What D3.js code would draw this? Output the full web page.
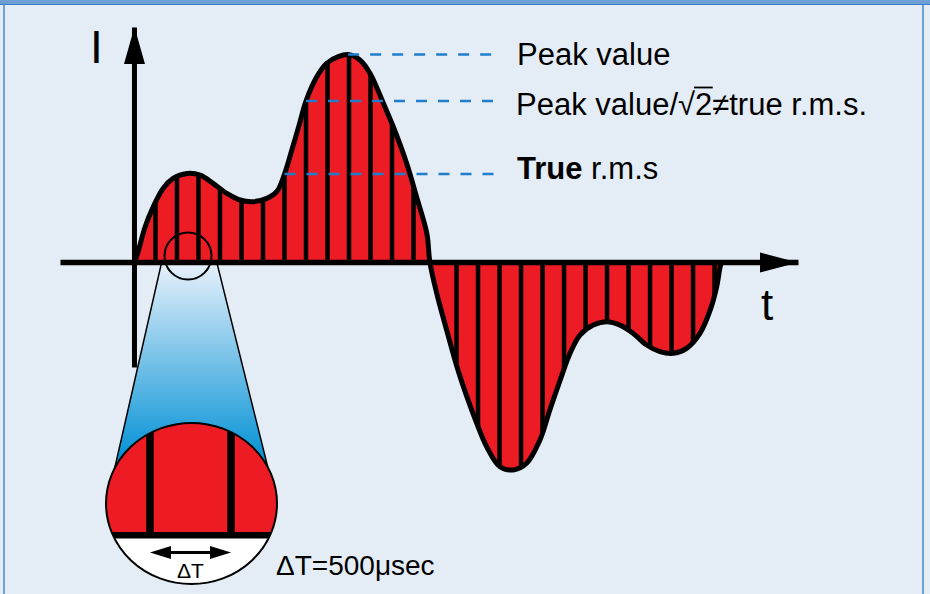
<!DOCTYPE html>
<html>
<head>
<meta charset="utf-8">
<script src="https://cdn.jsdelivr.net/npm/d3@7"></script>
<style>
  body { margin: 0; background: #e4edf6; }
  svg { display: block; }
  text { font-family: 'Liberation Sans', Arial, sans-serif; fill: #000; }
</style>
</head>
<body>
<div id="chart"></div>
<script>
// waveform: time in ms, current in % of the peak value
var timeMs = [0, 0.06, 0.26, 0.45, 0.68, 0.91, 1.23, 1.54, 1.84, 2.16, 2.47, 2.77, 3.09, 3.32,
	3.50, 3.67, 3.84, 4.00, 4.25, 4.48, 4.75, 4.98, 5.26, 5.49, 5.80, 6.03, 6.34, 6.57, 6.81, 6.88,
	7.04, 7.27, 7.51, 7.74, 7.97, 8.20, 8.51, 8.82, 9.13, 9.44, 9.67, 9.91, 10.14, 10.37, 10.68,
	10.99, 11.30, 11.61, 11.92, 12.23, 12.54, 12.85, 13.16, 13.40, 13.55, 13.64, 13.67];
var current = [0, 2.6, 17.0, 26.7, 35.6, 40.3, 42.7, 41.9, 37.9, 33.1, 29.9, 29.1, 30.7, 33.9,
	42.4, 54.0, 66.0, 77.6, 89.3, 95.8, 99.0, 100, 97.3, 90.9, 76.5, 65.2, 47.6, 31.5, 13.8, 0,
	-15.1, -32.8, -50.5, -64.9, -77.7, -89.0, -98.7, -100.2, -97.0, -85.8, -71.3, -56.9, -44.0, -35.2, -30.4,
	-28.8, -30.4, -34.4, -40.0, -43.2, -44.0, -41.6, -34.4, -23.1, -11.9, -1.4, 0];

// sampling instants drawn as bars (dT = 500 usec; the one just after the zero crossing is not drawn)
var sampleMs = [0, 0.5, 1, 1.5, 2, 2.5, 3, 3.5, 4, 4.5, 5, 5.5, 6, 6.5,
	7.5, 8, 8.5, 9, 9.5, 10, 10.5, 11, 11.5, 12, 12.5, 13, 13.5];

// annotation levels (% of peak) and their labels
var levelValues = [100, 77.6, 42.4];
var levelLabels = ['Peak value', 'Peak value/\u221A2\u2260true r.m.s.', 'True r.m.s'];

var W = 930, H = 594;

var svg = d3.select('#chart').append('svg')
	.attr('width', W)
	.attr('height', H);

var x = d3.scaleLinear().domain([-1.72, 15.44]).range([60, 798]);
var y = d3.scaleLinear().domain([-50.6, 113.3]).range([367, 27]);

var wave = timeMs.map(function(t, i) { return { t: t, i: current[i] }; });

var curve = d3.curveCatmullRom.alpha(0.5);
var area = d3.area()
	.x(function(d) { return x(d.t); })
	.y0(y(0))
	.y1(function(d) { return y(d.i); })
	.curve(curve);
var line = d3.line()
	.x(function(d) { return x(d.t); })
	.y(function(d) { return y(d.i); })
	.curve(curve);

// frame
svg.append('rect').attr('width', W).attr('height', H).attr('fill', '#e4edf6');
svg.append('rect').attr('width', W).attr('height', 4).attr('fill', '#6c9fd5');
svg.append('line').attr('x1', 0).attr('x2', W).attr('y1', 4.5).attr('y2', 4.5)
	.attr('stroke', '#3c7bc3').attr('stroke-width', 1);
svg.append('line').attr('x1', 4).attr('x2', 4).attr('y1', 4).attr('y2', H)
	.attr('stroke', '#4a87cc').attr('stroke-width', 1.5);
svg.append('line').attr('x1', 923).attr('x2', 923).attr('y1', 4).attr('y2', H)
	.attr('stroke', '#4a87cc').attr('stroke-width', 1.5);

var defs = svg.append('defs');

defs.append('clipPath').attr('id', 'waveClip')
	.append('path').attr('d', area(wave));

var grad = defs.append('linearGradient').attr('id', 'coneGrad')
	.attr('gradientUnits', 'userSpaceOnUse')
	.attr('x1', 0).attr('x2', 0).attr('y1', 262).attr('y2', 455);
grad.append('stop').attr('offset', '0%').attr('stop-color', '#e8f1fb');
grad.append('stop').attr('offset', '100%').attr('stop-color', '#0a94d6');

// magnifier geometry
var lens = { cx: 188, cy: 256, r: 23.5 };
var bigLens = { cx: 191.5, cy: 503.5, rx: 85.5, ry: 80.5 };
var zoomK = 3.77, focus = [188, 253.6];
function zx(px) { return bigLens.cx + zoomK * (px - focus[0]); }

defs.append('clipPath').attr('id', 'lensClip')
	.append('ellipse')
	.attr('cx', bigLens.cx).attr('cy', bigLens.cy)
	.attr('rx', bigLens.rx).attr('ry', bigLens.ry);

// cone from small lens down to the big one
svg.append('path')
	.attr('d', 'M161.7,262L216.7,262L271,480L112,480Z')
	.attr('fill', 'url(#coneGrad)')
	.attr('stroke', '#000')
	.attr('stroke-width', 1.5);

// red area + sample bars
svg.append('path')
	.attr('d', area(wave))
	.attr('fill', '#ed1c24');

svg.append('g')
	.attr('clip-path', 'url(#waveClip)')
	.selectAll('line')
	.data(sampleMs)
	.enter()
		.append('line')
		.attr('x1', function(d) { return x(d); })
		.attr('x2', function(d) { return x(d); })
		.attr('y1', y(-110))
		.attr('y2', y(110))
		.attr('stroke', '#000')
		.attr('stroke-width', 4.5);

svg.append('path')
	.attr('d', line(wave))
	.attr('fill', 'none')
	.attr('stroke', '#000')
	.attr('stroke-width', 5)
	.attr('stroke-linejoin', 'round');

// axes without ticks, plus arrow heads
var xAxis = d3.axisBottom(x).tickValues([]).tickSizeOuter(0);
var yAxis = d3.axisLeft(y).tickValues([]).tickSizeOuter(0);

svg.append('g')
	.attr('transform', 'translate(0,' + y(0) + ')')
	.call(xAxis)
	.select('.domain').attr('stroke', '#000').attr('stroke-width', 5.5);

svg.append('g')
	.attr('transform', 'translate(' + x(0) + ',0)')
	.call(yAxis)
	.select('.domain').attr('stroke', '#000').attr('stroke-width', 5);

var x0 = x(0) + 0.5, y0 = y(0) + 0.5;
svg.append('path')
	.attr('d', 'M' + x0 + ',' + y.range()[1] + 'L' + (x0 + 10.5) + ',64L' + (x0 - 10.5) + ',64Z')
	.attr('fill', '#000');
svg.append('path')
	.attr('d', 'M' + x.range()[1] + ',' + y0 + 'L760,' + (y0 - 10) + 'L760,' + (y0 + 10) + 'Z')
	.attr('fill', '#000');

svg.append('text').attr('x', 96.5).attr('y', 63).attr('text-anchor', 'middle')
	.style('font-size', '46px').text('I');
svg.append('text').attr('x', 767).attr('y', 320).attr('text-anchor', 'middle')
	.style('font-size', '44px').text('t');

// dashed level lines start where the rising edge of the main peak meets the level
function risingCrossing(level) {
	for (var k = 11; k < wave.length - 1; k++) {
		var a = wave[k], b = wave[k + 1];
		if (a.i <= level && b.i >= level) {
			var f = (level - a.i) / (b.i - a.i);
			return a.t + f * (b.t - a.t);
		}
	}
	return wave[21].t;
}

svg.append('g')
	.selectAll('line')
	.data(levelValues)
	.enter()
		.append('line')
		.attr('x1', function(d) { return x(risingCrossing(d)); })
		.attr('x2', 497)
		.attr('y1', function(d) { return y(d); })
		.attr('y2', function(d) { return y(d); })
		.attr('stroke', '#1f7ecb')
		.attr('stroke-width', 2.5)
		.attr('stroke-dasharray', '11,11');

var labelBase = [64.5, 114.5, 179];

svg.append('text').attr('x', 517).attr('y', labelBase[0])
	.style('font-size', '31px').text(levelLabels[0]);

var rmsText = svg.append('text').attr('x', 516).attr('y', labelBase[1])
	.style('font-size', '31px').text(levelLabels[1]);

// overline of the square root over the "2"
var rn = rmsText.node();
var sq = levelLabels[1].indexOf('\u221A');
var ox1 = rn.getEndPositionOfChar(sq).x - 1;
var ox2 = rn.getEndPositionOfChar(sq + 1).x + 0.5;
svg.append('line').attr('x1', ox1).attr('x2', ox2)
	.attr('y1', labelBase[1] - 27).attr('y2', labelBase[1] - 27)
	.attr('stroke', '#000').attr('stroke-width', 1.8);

var trueText = svg.append('text').attr('x', 517).attr('y', labelBase[2]).style('font-size', '31px');
trueText.append('tspan').style('font-weight', 'bold').text(levelLabels[2].split(' ')[0]);
trueText.append('tspan').text(' ' + levelLabels[2].split(' ')[1]);

// small lens over the chart
svg.append('circle')
	.attr('cx', lens.cx).attr('cy', lens.cy).attr('r', lens.r)
	.attr('fill', 'none')
	.attr('stroke', '#000')
	.attr('stroke-width', 2);

// big lens: same area and bars, magnified
var big = svg.append('g').attr('clip-path', 'url(#lensClip)');
big.append('ellipse')
	.attr('cx', bigLens.cx).attr('cy', bigLens.cy)
	.attr('rx', bigLens.rx).attr('ry', bigLens.ry)
	.attr('fill', '#fff');

var mag = big.append('g')
	.attr('transform', 'translate(' + (bigLens.cx - zoomK * focus[0]) + ',' + (bigLens.cy - zoomK * focus[1]) + ') scale(' + zoomK + ')');

mag.append('path').attr('d', area(wave)).attr('fill', '#ed1c24');

mag.append('g')
	.attr('clip-path', 'url(#waveClip)')
	.selectAll('line')
	.data(sampleMs)
	.enter()
		.append('line')
		.attr('x1', function(d) { return x(d); })
		.attr('x2', function(d) { return x(d); })
		.attr('y1', y(-110))
		.attr('y2', y(110))
		.attr('stroke', '#000')
		.attr('stroke-width', 7.5)
		.attr('vector-effect', 'non-scaling-stroke');

mag.append('line')
	.attr('x1', x.range()[0]).attr('x2', x.range()[1])
	.attr('y1', y(0)).attr('y2', y(0))
	.attr('stroke', '#000')
	.attr('stroke-width', 6.5)
	.attr('vector-effect', 'non-scaling-stroke');

svg.append('ellipse')
	.attr('cx', bigLens.cx).attr('cy', bigLens.cy)
	.attr('rx', bigLens.rx).attr('ry', bigLens.ry)
	.attr('fill', 'none')
	.attr('stroke', '#000')
	.attr('stroke-width', 2);

// dT double arrow between two magnified samples
var ax1 = zx(x(sampleMs[2])), ax2 = zx(x(sampleMs[3])), ay = 552.5;
svg.append('line')
	.attr('x1', ax1 + 15).attr('x2', ax2 - 15)
	.attr('y1', ay).attr('y2', ay)
	.attr('stroke', '#000')
	.attr('stroke-width', 3);
svg.append('path')
	.attr('d', 'M' + ax1 + ',' + ay + 'L' + (ax1 + 21) + ',' + (ay - 6.5) + 'L' + (ax1 + 21) + ',' + (ay + 6.5) + 'Z' +
		'M' + ax2 + ',' + ay + 'L' + (ax2 - 21) + ',' + (ay - 6.5) + 'L' + (ax2 - 21) + ',' + (ay + 6.5) + 'Z')
	.attr('fill', '#000');

svg.append('text').attr('x', (ax1 + ax2) / 2).attr('y', 578).attr('text-anchor', 'middle')
	.style('font-size', '21px').text('\u0394T');

svg.append('text').attr('x', 276).attr('y', 575)
	.style('font-size', '28px').text('\u0394T=500\u03BCsec');
</script>
</body>
</html>
